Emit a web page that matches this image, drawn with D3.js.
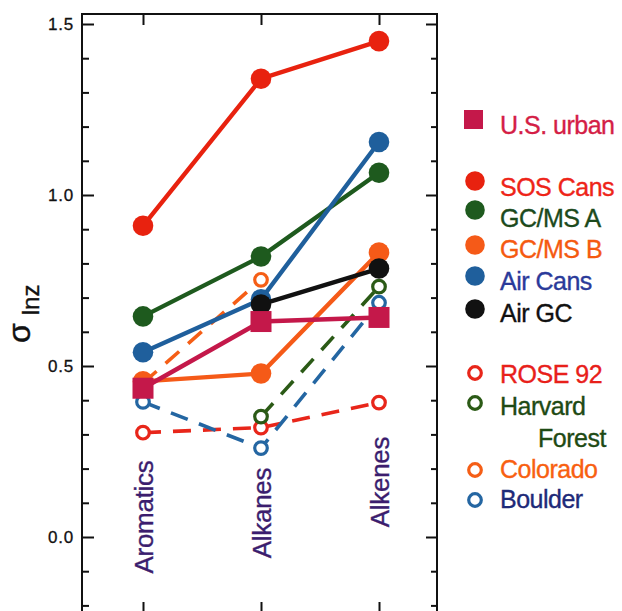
<!DOCTYPE html>
<html>
<head>
<meta charset="utf-8">
<script src="https://cdn.jsdelivr.net/npm/d3@7/dist/d3.min.js"></script>
<style>
  html, body { margin: 0; padding: 0; background: #ffffff; }
  svg { display: block; font-family: "Liberation Sans", Arial, Helvetica, sans-serif; }
</style>
</head>
<body>
<div id="chart"></div>
<script>
// Hydrocarbon class categories (x axis)
const categories = ["Aromatics", "Alkanes", "Alkenes"];

// σ lnz per category; null = no value for that class
const usUrban       = [0.435, 0.63, 0.642];
const sosCans       = [0.91, 1.34, 1.45];
const gcmsA         = [0.645, 0.82, 1.065];
const gcmsB         = [0.455, 0.478, 0.832];
const airCans       = [0.54, 0.695, 1.155];
const airGC         = [null, 0.68, 0.785];
const rose92        = [0.305, 0.32, 0.393];
const harvardForest = [null, 0.352, 0.732];
const colorado      = [0.45, 0.752, null];
const boulder       = [0.395, 0.26, 0.685];

// y axis tick values
const majorTicks = [0.0, 0.5, 1.0, 1.5];
const minorTicks = [-0.2, -0.1, 0.1, 0.2, 0.3, 0.4, 0.6, 0.7, 0.8, 0.9, 1.1, 1.2, 1.3, 1.4];
const majorTickLabels = ["0.0", "0.5", "1.0", "1.5"];

const W = 622, H = 611;
const frame = { left: 82, right: 437, top: 14, bottom: 614 };

const svg = d3.select("#chart").append("svg")
  .attr("width", W).attr("height", H)
  .attr("viewBox", `0 0 ${W} ${H}`);

svg.append("rect").attr("width", W).attr("height", H).attr("fill", "#ffffff");

const y = d3.scaleLinear().domain([0, 1.5]).range([537, 24]);
const x = d3.scalePoint().domain(categories).range([143, 379]);

// frame
const axisColor = "#111111";
svg.append("rect")
  .attr("x", frame.left).attr("y", frame.top)
  .attr("width", frame.right - frame.left).attr("height", frame.bottom - frame.top)
  .attr("fill", "none").attr("stroke", axisColor).attr("stroke-width", 2);

// left axis: inward ticks
const leftMajor = d3.axisRight(y).tickValues(majorTicks).tickSize(12)
  .tickFormat((d, i) => majorTickLabels[i]);
const gL = svg.append("g").attr("transform", `translate(${frame.left},0)`).call(leftMajor);
gL.select(".domain").remove();
gL.selectAll("line").attr("stroke", axisColor).attr("stroke-width", 2);
gL.selectAll("text")
  .attr("x", -8).attr("text-anchor", "end")
  .attr("font-size", 17).attr("fill", "#111").attr("letter-spacing", 0.8)
  .attr("stroke", "#111").attr("stroke-width", 0.3)
  .style("font-family", "'Liberation Sans', Arial, sans-serif");

const leftMinor = d3.axisRight(y).tickValues(minorTicks).tickSize(7).tickFormat("");
const gLm = svg.append("g").attr("transform", `translate(${frame.left},0)`).call(leftMinor);
gLm.select(".domain").remove();
gLm.selectAll("line").attr("stroke", axisColor).attr("stroke-width", 2);

// right axis: inward ticks
const rightMajor = d3.axisLeft(y).tickValues(majorTicks).tickSize(11).tickFormat("");
const gR = svg.append("g").attr("transform", `translate(${frame.right},0)`).call(rightMajor);
gR.select(".domain").remove();
gR.selectAll("line").attr("stroke", axisColor).attr("stroke-width", 2);
const rightMinor = d3.axisLeft(y).tickValues(minorTicks).tickSize(6).tickFormat("");
const gRm = svg.append("g").attr("transform", `translate(${frame.right},0)`).call(rightMinor);
gRm.select(".domain").remove();
gRm.selectAll("line").attr("stroke", axisColor).attr("stroke-width", 2);

// top and bottom category ticks
const gT = svg.append("g").attr("transform", `translate(0,${frame.top})`)
  .call(d3.axisBottom(x).tickSize(11).tickFormat(""));
gT.select(".domain").remove();
gT.selectAll("line").attr("stroke", axisColor).attr("stroke-width", 2);
const gB = svg.append("g").attr("transform", `translate(0,${frame.bottom})`)
  .call(d3.axisTop(x).tickSize(12).tickFormat(""));
gB.select(".domain").remove();
gB.selectAll("line").attr("stroke", axisColor).attr("stroke-width", 2);

// y axis title: σ with subscript lnz
const title = svg.append("text")
  .attr("transform", "translate(30,343) rotate(-90)")
  .attr("text-anchor", "start").attr("fill", "#111")
  .attr("stroke", "#111").attr("stroke-width", 0.4);
title.append("tspan").attr("font-size", 32).text("σ");
title.append("tspan").attr("font-size", 24).attr("dx", 8).attr("dy", 9).text("lnz");

// category labels, rotated
const catLabelCenter = { Aromatics: 517, Alkanes: 513, Alkenes: 482 };
svg.append("g").selectAll("text").data(categories).join("text")
  .attr("transform", d => `translate(${x(d) + 10},${catLabelCenter[d]}) rotate(-90)`)
  .attr("text-anchor", "middle")
  .attr("font-size", 26)
  .attr("letter-spacing", -0.3)
  .attr("fill", "#3b1d6e")
  .attr("stroke", "#3b1d6e").attr("stroke-width", 0.35)
  .text(d => d);

// series definitions
const series = [
  { name: "ROSE 92",  values: rose92,        color: "#e8261a", text: "#e8201a", kind: "open" },
  { name: "Harvard Forest", values: harvardForest, color: "#2b5a16", text: "#1e4a14", kind: "open" },
  { name: "Colorado", values: colorado,      color: "#f55e16", text: "#f86010", kind: "open" },
  { name: "Boulder",  values: boulder,       color: "#2466a2", text: "#1e2a78", kind: "open" },
  { name: "SOS Cans", values: sosCans,       color: "#e8220f", text: "#ee2418", kind: "filled" },
  { name: "GC/MS A",  values: gcmsA,         color: "#1e5a1e", text: "#1c4a1c", kind: "filled" },
  { name: "GC/MS B",  values: gcmsB,         color: "#f55a18", text: "#f55a10", kind: "filled" },
  { name: "Air Cans", values: airCans,       color: "#1f5f9c", text: "#2a3a9a", kind: "filled" },
  { name: "Air GC",   values: airGC,         color: "#111111", text: "#111111", kind: "filled" },
  { name: "U.S. urban", values: usUrban,     color: "#c4184a", text: "#d41e46", kind: "square" }
];

const line = d3.line()
  .defined(d => d.v != null)
  .x(d => x(d.c)).y(d => y(d.v));

const plot = svg.append("g");
series.forEach(s => {
  const pts = categories.map((c, i) => ({ c, v: s.values[i] }));
  const g = plot.append("g");
  g.append("path")
    .attr("d", line(pts))
    .attr("fill", "none")
    .attr("stroke", s.color)
    .attr("stroke-width", s.kind === "open" ? 3.6 : 4.4)
    .attr("stroke-dasharray", s.kind === "open" ? "18,12" : null);
  const valid = pts.filter(d => d.v != null);
  if (s.kind === "open") {
    g.selectAll("circle").data(valid).join("circle")
      .attr("cx", d => x(d.c)).attr("cy", d => y(d.v)).attr("r", 6.3)
      .attr("fill", "#ffffff").attr("stroke", s.color).attr("stroke-width", 3.2);
  } else if (s.kind === "filled") {
    g.selectAll("circle").data(valid).join("circle")
      .attr("cx", d => x(d.c)).attr("cy", d => y(d.v)).attr("r", 10.3)
      .attr("fill", s.color);
  } else {
    g.selectAll("rect").data(valid).join("rect")
      .attr("x", d => x(d.c) - 10.5).attr("y", d => y(d.v) - 10.5)
      .attr("width", 21).attr("height", 21)
      .attr("fill", s.color);
  }
});

// legend
const legendOrder = [
  { name: "U.S. urban", lines: ["U.S. urban"], my: 120, ty: 134 },
  { name: "SOS Cans", lines: ["SOS Cans"], my: 181, ty: 196 },
  { name: "GC/MS A", lines: ["GC/MS A"], my: 210, ty: 227 },
  { name: "GC/MS B", lines: ["GC/MS B"], my: 245, ty: 258 },
  { name: "Air Cans", lines: ["Air Cans"], my: 276, ty: 290 },
  { name: "Air GC", lines: ["Air GC"], my: 309, ty: 322 },
  { name: "ROSE 92", lines: ["ROSE 92"], my: 373, ty: 383 },
  { name: "Harvard Forest", lines: ["Harvard", "Forest"], my: 403, ty: 415 },
  { name: "Colorado", lines: ["Colorado"], my: 470, ty: 478 },
  { name: "Boulder", lines: ["Boulder"], my: 500, ty: 508 }
];
const leg = svg.append("g");
legendOrder.forEach(e => {
  const s = series.find(q => q.name === e.name);
  if (s.kind === "square") {
    leg.append("rect").attr("x", 464).attr("y", e.my - 10).attr("width", 19).attr("height", 19).attr("fill", s.color);
  } else if (s.kind === "filled") {
    leg.append("circle").attr("cx", 475).attr("cy", e.my).attr("r", 9.8).attr("fill", s.color);
  } else {
    leg.append("circle").attr("cx", 475).attr("cy", e.my).attr("r", 6.3)
      .attr("fill", "#fff").attr("stroke", s.color).attr("stroke-width", 3.2);
  }
  e.lines.forEach((t, i) => {
    leg.append("text")
      .attr("x", i === 0 ? 500 : 538)
      .attr("y", e.ty + i * 32)
      .attr("font-size", 25)
      .attr("letter-spacing", -0.5)
      .attr("fill", s.text)
      .attr("stroke", s.text).attr("stroke-width", 0.35)
      .text(t);
  });
});
</script>
</body>
</html>
